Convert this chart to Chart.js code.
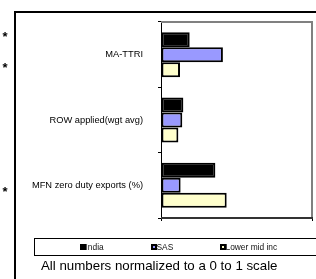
<!DOCTYPE html>
<html>
<head>
<meta charset="utf-8">
<script src="https://cdn.jsdelivr.net/npm/chart.js@4/dist/chart.umd.min.js"></script>
<style>
html,body{margin:0;padding:0;background:#fff;}
</style>
</head>
<body>
<canvas id="c" width="316" height="279"></canvas>
<script>
const categories = ["MA-TTRI", "ROW applied(wgt avg)", "MFN zero duty exports (%)"];
const seriesNames = ["India", "SAS", "Lower mid inc"];
const india = [0.19, 0.148, 0.36];
const sas = [0.41, 0.141, 0.13];
const lowerMidInc = [0.126, 0.115, 0.435];
const seriesColors = ["#000000", "#9999FF", "#FFFFCC"];
const footnote = "All numbers normalized to a 0 to 1 scale";
const FONT = "'Liberation Sans', Arial, sans-serif";

const plotBox = {
  id: 'plotBox',
  beforeDatasetsDraw(chart) {
    const ctx = chart.ctx;
    ctx.save();
    ctx.fillStyle = 'rgb(128,128,128)';
    ctx.fillRect(161, 21, 152, 2);
    ctx.fillRect(311, 21, 2, 198);
    ctx.fillStyle = 'rgb(51,51,51)';
    ctx.fillRect(161, 217, 152, 2);
    ctx.restore();
  }
};

const decor = {
  id: 'decor',
  afterDraw(chart) {
    const ctx = chart.ctx;
    ctx.save();
    ctx.fillStyle = 'rgb(128,128,128)';
    ctx.fillRect(161, 21, 152, 2);
    ctx.fillRect(311, 21, 2, 198);
    ctx.fillStyle = 'rgb(51,51,51)';
    ctx.fillRect(161, 217, 152, 2);
    // outer frame
    ctx.fillStyle = '#000';
    ctx.fillRect(14, 11, 2, 268);
    ctx.fillRect(14, 11, 302, 2);
    // asterisks
    ctx.font = "bold 13px " + FONT;
    ctx.textAlign = 'center';
    ctx.textBaseline = 'middle';
    [37, 68, 192].forEach(y => ctx.fillText('*', 5, y));
    // legend box
    ctx.fillRect(34, 238, 282, 1);
    ctx.fillRect(34, 238, 1, 18);
    ctx.fillRect(34, 255, 282, 1);
    const lx = [80, 151, 220];
    ctx.font = "8.4px " + FONT;
    ctx.textAlign = 'left';
    ctx.textBaseline = 'alphabetic';
    chart.data.datasets.forEach((ds, i) => {
      ctx.fillStyle = '#000';
      ctx.fillRect(lx[i], 244, 6, 6);
      ctx.fillStyle = ds.backgroundColor;
      ctx.fillRect(lx[i] + 2, 246, 2, 2);
      ctx.fillStyle = '#111';
      ctx.fillText(ds.label, lx[i] + 5.5, 250);
    });
    // footnote
    ctx.fillStyle = '#000';
    ctx.font = "13.3px " + FONT;
    ctx.fillText(footnote, 41, 270);
    ctx.restore();
  }
};

new Chart(document.getElementById('c'), {
  type: 'bar',
  data: {
    labels: categories,
    datasets: [
      { label: seriesNames[0], data: india, backgroundColor: seriesColors[0] },
      { label: seriesNames[1], data: sas, backgroundColor: seriesColors[1] },
      { label: seriesNames[2], data: lowerMidInc, backgroundColor: seriesColors[2] }
    ].map(d => Object.assign(d, {
      borderColor: '#000', borderWidth: 2, borderSkipped: false,
      categoryPercentage: 0.69, barPercentage: 1.0
    }))
  },
  options: {
    indexAxis: 'y',
    responsive: false,
    animation: false,
    devicePixelRatio: 1,
    layout: { padding: { top: 22, right: 4, bottom: 58, left: 0 } },
    plugins: { legend: { display: false }, tooltip: { enabled: false } },
    scales: {
      y: {
        type: 'category',
        offset: true,
        grid: { offset: true, drawOnChartArea: false, drawTicks: true, tickLength: 3, color: '#000' },
        border: { color: '#000', width: 1 },
        ticks: { color: '#000', padding: 15, font: { family: FONT, size: 9.3 } },
        afterFit(s) { s.width = 161; }
      },
      x: {
        min: 0, max: 1,
        grid: { drawOnChartArea: false, drawTicks: true, tickLength: 3, color: '#000' },
        border: { display: false },
        ticks: { display: false, stepSize: 1 },
        afterFit(s) { s.height = 3; }
      }
    }
  },
  plugins: [plotBox, decor]
});
</script>
</body>
</html>
